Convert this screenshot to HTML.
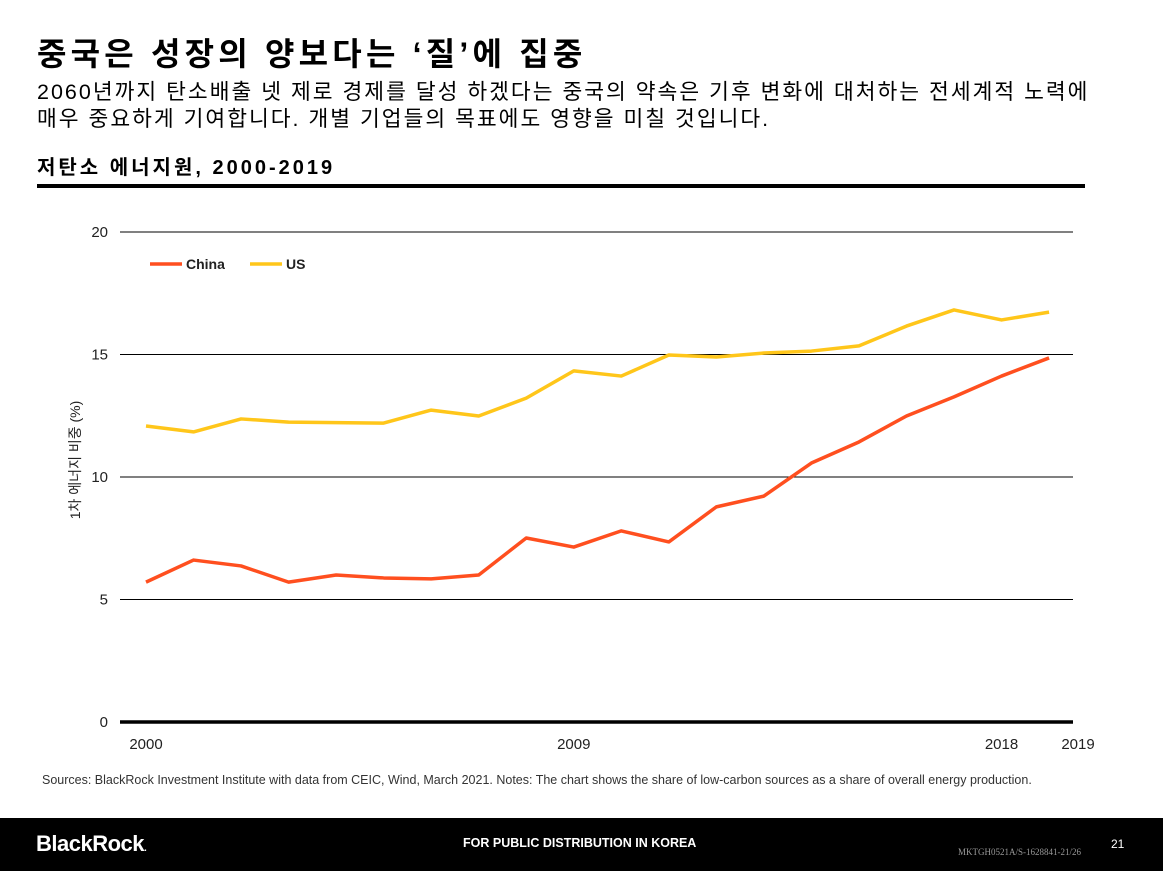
<!DOCTYPE html>
<html><head><meta charset="utf-8"><style>
body{margin:0;width:1163px;height:871px;background:#fff;position:relative;overflow:hidden;font-family:"Liberation Sans","Noto Sans CJK KR",sans-serif;color:#000}
.a{position:absolute;white-space:nowrap}
</style></head><body>
<div class="a" style="left:37px;top:29px;font-size:32px;font-weight:bold;letter-spacing:4.2px">중국은 성장의 양보다는 ‘질’에 집중</div>
<div class="a" style="left:37px;top:79px;font-size:21.5px;line-height:27px;letter-spacing:2.0px">2060년까지 탄소배출 넷 제로 경제를 달성 하겠다는 중국의 약속은 기후 변화에 대처하는 전세계적 노력에<br>매우 중요하게 기여합니다. 개별 기업들의 목표에도 영향을 미칠 것입니다.</div>
<div class="a" style="left:37px;top:151px;font-size:20px;font-weight:bold;letter-spacing:3px">저탄소 에너지원, 2000-2019</div>
<div class="a" style="left:37px;top:184px;width:1048px;height:4px;background:#000"></div>
<svg class="a" style="left:0;top:0" width="1163" height="800" id="chart"></svg>
<div class="a" style="left:42px;top:773px;font-size:12.5px;color:#333;letter-spacing:0px">Sources: BlackRock Investment Institute with data from CEIC, Wind, March 2021. Notes: The chart shows the share of low-carbon sources as a share of overall energy production.</div>
<div class="a" style="left:0;top:818px;width:1163px;height:53px;background:#000"></div>
<div class="a" style="left:36px;top:831px;font-size:22px;font-weight:bold;color:#fff;letter-spacing:-0.5px">BlackRock<span style="font-size:10px">.</span></div>
<div class="a" style="left:463px;top:836px;font-size:12.5px;font-weight:bold;color:#fff;letter-spacing:0px">FOR PUBLIC DISTRIBUTION IN KOREA</div>
<div class="a" style="left:958px;top:847px;font-size:9px;color:#999;font-family:'Liberation Serif',serif">MKTGH0521A/S-1628841-21/26</div>
<div class="a" style="left:1111px;top:837px;font-size:12px;color:#fff">21</div>
<script>
const years=[2000,2001,2002,2003,2004,2005,2006,2007,2008,2009,2010,2011,2012,2013,2014,2015,2016,2017,2018,2019];
const china=[5.71,6.61,6.37,5.71,6.0,5.88,5.84,6.0,7.51,7.14,7.8,7.35,8.78,9.22,10.57,11.43,12.49,13.27,14.12,14.86];
const us=[12.08,11.84,12.37,12.24,12.22,12.2,12.73,12.49,13.22,14.33,14.12,14.98,14.9,15.06,15.14,15.35,16.16,16.82,16.41,16.73];
const yTicks=[0,5,10,15,20];
const xLabels=[2000,2009,2018,2019];
const NS='http://www.w3.org/2000/svg';
const svg=document.getElementById('chart');
const x=v=>146+(v-2000)*47.53;
const y=v=>722-v*24.5;
function mk(t,a){const e=document.createElementNS(NS,t);for(const k in a)e.setAttribute(k,a[k]);svg.appendChild(e);return e;}
yTicks.forEach(t=>{
 const l=mk('line',{x1:120,x2:1073,y1:y(t),y2:y(t),stroke:'#000','stroke-width':t===0?3.5:1});
 
 
 const tx=mk('text',{x:108,y:y(t)+5,'text-anchor':'end','font-size':15,fill:'#222','font-family':'Liberation Sans'});
 tx.textContent=t;
 
 
});
xLabels.forEach(v=>{
 const px=v===2019?1078:x(v);
 const tx=mk('text',{x:px,y:749,'text-anchor':'middle','font-size':15,fill:'#222','font-family':'Liberation Sans'});
 tx.textContent=v;
 
 
});
const yt=mk('text',{transform:'translate(80,460) rotate(-90)','text-anchor':'middle','font-size':14,fill:'#222','font-family':'Liberation Sans, Noto Sans CJK KR'});
yt.textContent='1차 에너지 비중 (%)';


function line(data,color,name){
 const p=mk('polyline',{points:data.map((v,i)=>x(years[i])+','+y(v)).join(' '),fill:'none',stroke:color,'stroke-width':3.5,'stroke-linejoin':'round'});
 
 
}
line(us,'#FFC61A','us-line');
line(china,'#FF4F1F','china-line');
[['China','#FF4F1F',150],['US','#FFC61A',250]].forEach(([n,c,lx])=>{
 const l=mk('line',{x1:lx,x2:lx+32,y1:264,y2:264,stroke:c,'stroke-width':3.5});
 
 
 const t=mk('text',{x:lx+36,y:269,'font-size':14,'font-weight':'bold',fill:'#222','font-family':'Liberation Sans'});
 t.textContent=n;
 
 
});
</script>
</body></html>
